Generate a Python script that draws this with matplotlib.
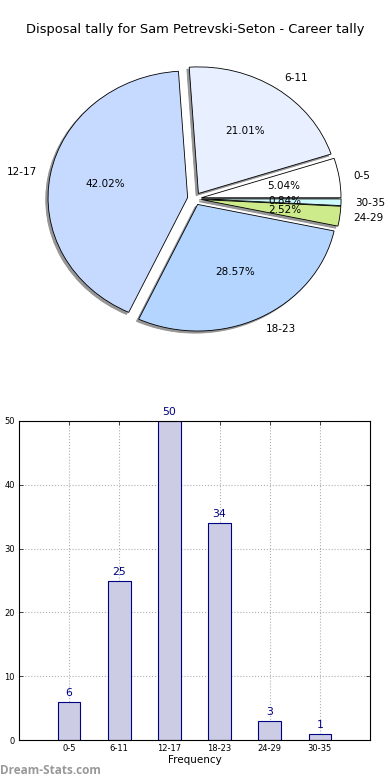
import matplotlib
matplotlib.use("Agg")
import matplotlib.pyplot as plt
import numpy as np

categories = ["0-5", "6-11", "12-17", "18-23", "24-29", "30-35"]
counts = [6, 25, 50, 34, 3, 1]
pie_colors = ["#ffffff", "#e8f0ff", "#c6d9ff", "#b3d5ff", "#cdeb8b", "#ccfaff"]
title = "Disposal tally for Sam Petrevski-Seton - Career tally"
yticks = [0, 10, 20, 30, 40, 50]

fig = plt.figure(figsize=(3.9, 7.8), dpi=100)

# Pie axes
ax1 = fig.add_axes([20/390, 1 - 357/780, 349/390, 316.5/780])
ax1.pie(counts, labels=categories, colors=pie_colors, explode=[0.05]*len(counts),
        autopct="%1.2f%%",
        shadow=dict(ox=-0.012, oy=-0.012, facecolor="#8c8c8c", edgecolor="#8c8c8c", alpha=0.9),
        startangle=0,
        wedgeprops=dict(edgecolor="black", linewidth=0.6),
        textprops=dict(fontsize=7.5))
ax1.set_aspect("auto")
ax1.set_xlim(-1.25, 1.25)
ax1.set_ylim(-1.25, 1.25)
ax1.set_frame_on(False)
ax1.set_xticks([]); ax1.set_yticks([])
fig.text(0.5, 1 - 30/780, title, ha="center", va="center", fontsize=9.4)

# Bar axes
ax2 = fig.add_axes([19/390, 40/780, 351/390, 319/780])
x = np.arange(len(categories))
bars = ax2.bar(x, counts, width=0.45, color="#cccce5", edgecolor="#000080", linewidth=0.8)
for xi, c in zip(x, counts):
    ax2.text(xi, c + 0.6, str(c), ha="center", va="bottom", fontsize=7.8, color="#000080")
ax2.set_xlim(-1, 6)
ax2.set_ylim(0, 50)
ax2.set_xticks(x)
ax2.set_xticklabels(categories, fontsize=6)
ax2.set_yticks(yticks)
ax2.set_yticklabels([str(v) for v in yticks], fontsize=6)
ax2.tick_params(direction="in", length=3, width=0.5, top=True, right=True, pad=3)
ax2.grid(True, linestyle=":", color="#b0b0b0", linewidth=0.8)
ax2.set_axisbelow(True)
for s in ax2.spines.values():
    s.set_linewidth(0.8)
ax2.set_xlabel("Frequency", fontsize=7.5, labelpad=1)

fig.text(0, 1 - 770/780, "Dream-Stats.com", fontsize=8.5, color="#999999",
         fontweight="bold", family="Open Sans", ha="left", va="center")

fig.savefig("out.png", dpi=100)
